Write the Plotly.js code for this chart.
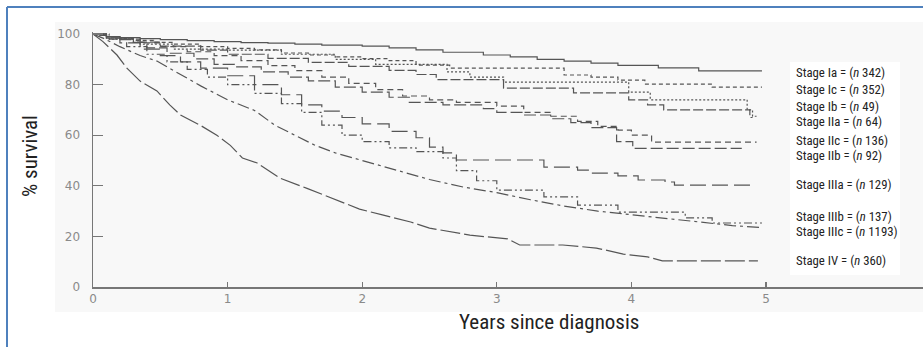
<!DOCTYPE html>
<html>
<head>
<meta charset="utf-8">
<script src="https://cdn.plot.ly/plotly-3.0.1.min.js"></script>
<style>html,body{margin:0;padding:0;background:#fff;}#chart{width:923px;height:347px;}</style>
</head>
<body>
<div id="chart"></div>
<script>
// Stage labels and patient counts
const stages = ["Ia", "Ic", "Ib", "IIa", "IIc", "IIb", "IIIa", "IIIb", "IIIc", "IV"];
const counts = [342, 352, 49, 64, 136, 92, 129, 137, 1193, 360];
const xTicks = [0, 1, 2, 3, 4, 5];
const yTicks = [0, 20, 40, 60, 80, 100];

// Survival curves (years, % survival)
const iaT = [0, 0.05, 0.1, 0.2, 0.35, 0.5, 0.7, 0.9, 1.1, 1.3, 1.5, 1.7, 2.0, 2.2, 2.4, 2.6, 2.9, 3.1, 3.3, 3.5, 3.7, 3.9, 4.2, 4.5, 4.97];
const iaS = [100, 99.5, 99, 98.6, 98.2, 97.8, 97.4, 97, 96.6, 96.4, 96, 95.6, 95.2, 94.5, 93.7, 92.8, 91.7, 91, 90, 89.3, 88.5, 87.6, 86.6, 85.4, 85.4];

const icT = [0, 0.1, 0.2, 0.3, 0.45, 0.6, 0.8, 1.0, 1.2, 1.4, 1.6, 1.8, 2.0, 2.2, 2.4, 2.65, 3.5, 3.7, 3.9, 4.1, 4.6, 4.97];
const icS = [100, 99, 98.3, 97.5, 96.7, 96, 95, 94.3, 93.7, 92.5, 91.7, 91, 90.3, 89.5, 87.7, 86.5, 83.8, 83, 81.8, 80.2, 79, 79];

const ibT = [0, 0.12, 0.35, 0.6, 1.0, 1.4, 1.8, 2.1, 2.63, 2.8, 3.05, 3.98, 4.14, 4.86, 4.9, 4.93];
const ibS = [100, 98, 96, 94, 93.6, 92, 90, 88, 85, 83, 81, 77, 74, 70, 67.5, 67.5];

const iiaT = [0, 0.1, 0.3, 0.5, 0.8, 1.0, 1.3, 1.6, 1.9, 2.2, 2.4, 2.55, 3.05, 3.57, 3.98, 4.12, 4.24, 4.88, 4.9];
const iiaS = [100, 98.4, 96.8, 95.2, 93.6, 92, 90.4, 88.8, 87.2, 85.6, 84, 82, 78.6, 76.7, 74, 72, 70, 67, 67];

const iicT = [0, 0.1, 0.2, 0.35, 0.5, 0.7, 0.9, 1.1, 1.3, 1.5, 1.7, 1.9, 2.1, 2.3, 2.5, 2.7, 3.0, 3.2, 3.4, 3.6, 3.75, 3.9, 4.0, 4.15, 4.93];
const iicS = [100, 99, 98, 96.5, 95, 93, 91.5, 89.5, 87.5, 85.5, 83, 80.5, 78, 75.5, 74, 73, 71.5, 69, 67.5, 65.5, 63.5, 62, 60, 57.3, 57.3];

const iibT = [0, 0.08, 0.2, 0.3, 0.4, 0.55, 0.75, 0.9, 1.05, 1.25, 1.45, 1.6, 1.8, 2.0, 2.2, 2.35, 2.6, 2.9, 3.0, 3.2, 3.4, 3.55, 3.7, 3.89, 4.01, 4.82];
const iibS = [100, 98.9, 97.8, 96.7, 94.5, 92.4, 90.2, 88, 87, 85, 83, 81.5, 79, 77, 75, 73, 72, 70.5, 69, 68, 66.5, 65, 63, 57.5, 54.8, 54.8];

const iiiaT = [0, 0.1, 0.2, 0.35, 0.5, 0.65, 0.8, 1.0, 1.2, 1.4, 1.55, 1.7, 1.85, 2.0, 2.2, 2.4, 2.5, 2.6, 2.7, 3.35, 3.6, 3.7, 3.9, 4.05, 4.25, 4.32, 4.9];
const iiiaS = [100, 98.5, 96.5, 94, 91.5, 89, 86.5, 83.5, 80, 76, 72, 69.5, 67, 64.5, 61.5, 59, 55.3, 53, 50.2, 47.4, 46.2, 45, 43.9, 42.3, 41.5, 40.3, 40.3];

const iiibT = [0, 0.1, 0.25, 0.4, 0.55, 0.7, 0.85, 1.0, 1.2, 1.4, 1.55, 1.7, 1.85, 2.0, 2.2, 2.4, 2.6, 2.7, 2.85, 3.0, 3.35, 3.6, 3.9, 4.4, 4.6, 4.97];
const iiibS = [100, 98, 95, 92, 89, 86, 83, 80, 76.5, 72.5, 69, 64, 60, 57.5, 55, 53.5, 51, 46, 42, 38.3, 35.6, 32.4, 29.6, 27.3, 25.3, 25.3];

const iiicT = [0, 0.074, 0.2, 0.35, 0.475, 0.6, 0.8, 1.0, 1.2, 1.35, 1.5, 1.65, 1.8, 2.0, 2.25, 2.5, 2.75, 3.0, 3.25, 3.5, 3.75, 4.0, 4.25, 4.5, 4.75, 4.97];
const iiicS = [100, 98.4, 95, 91.5, 89.3, 85.5, 79.5, 74, 69.8, 64, 60, 56, 53, 50, 46, 42.5, 39.5, 37.3, 34.5, 32, 30, 28.5, 27, 25.5, 24.3, 23.5];

const ivT = [0, 0.074, 0.178, 0.25, 0.35, 0.475, 0.57, 0.65, 0.795, 0.92, 1.02, 1.11, 1.22, 1.39, 1.59, 1.81, 1.98, 2.15, 2.36, 2.5, 2.8, 3.08, 3.17, 3.49, 3.74, 3.94, 4.12, 4.23, 4.94];
const ivS = [100, 97, 91.7, 86.6, 81.4, 77.5, 72, 68, 64, 60, 56, 51, 49, 43, 39, 34.4, 30.8, 28.5, 25.7, 23.3, 20.5, 19, 16.6, 16.6, 15.4, 13, 11.9, 10.3, 10.3];

const seriesT = [iaT, icT, ibT, iiaT, iicT, iibT, iiiaT, iiibT, iiicT, ivT];
const seriesS = [iaS, icS, ibS, iiaS, iicS, iibS, iiiaS, iiibS, iiicS, ivS];
const dashes = ["solid", "4px,3px", "2px,2px", "10px,3px", "6px,4px", "12px,4px", "16px,6px", "8px,3px,2px,3px,2px,3px", "12px,4px,3px,4px", "20px,4px"];
const shapesLine = ["hv", "hv", "hv", "hv", "hv", "hv", "hv", "hv", "linear", "linear"];
const labelY = [72, 89, 107, 122, 140, 155, 184, 216, 231, 260];

// geometry helpers (pixel -> paper)
const L = 93, R = 0, T = 32, B = 60, W = 923 - L - R, H = 347 - T - B;
const px = x => (x - L) / W;
const py = y => (347 - B - y) / H;

const traces = seriesT.map((t, i) => ({
  x: t, y: seriesS[i], type: "scatter", mode: "lines",
  line: {color: "#555", width: 1.2, dash: dashes[i], shape: shapesLine[i]},
  hoverinfo: "skip", showlegend: false
}));

const condensed = "Roboto Condensed, Liberation Sans Narrow, DejaVu Sans Condensed, sans-serif";
const annotations = stages.map((s, i) => ({
  xref: "paper", yref: "paper", x: px(794), y: py(labelY[i]),
  xanchor: "left", yanchor: "middle", showarrow: false,
  text: "Stage " + s + " = (<i>n</i> " + counts[i] + ")",
  font: {family: condensed, size: 12.8, color: "#222"}
}));
annotations.push({
  xref: "paper", yref: "paper", x: px(30), y: py(156), textangle: -90,
  xanchor: "center", yanchor: "middle", showarrow: false,
  text: "% survival", font: {family: condensed, size: 21, color: "#222"}
});
annotations.push({
  xref: "paper", yref: "paper", x: px(549), y: py(322),
  xanchor: "center", yanchor: "middle", showarrow: false,
  text: "Years since diagnosis", font: {family: condensed, size: 21, color: "#222"}
});

const shapes = [
  {type: "rect", xref: "paper", yref: "paper", x0: px(55), x1: px(923), y0: py(312), y1: py(22), fillcolor: "#f8f8f8", line: {width: 0}, layer: "below"},
  {type: "rect", xref: "paper", yref: "paper", x0: px(790), x1: px(900), y0: py(275), y1: py(62), fillcolor: "#ffffff", line: {width: 0}, layer: "below"},
  {type: "line", xref: "paper", yref: "paper", x0: px(7), x1: px(7), y0: py(7), y1: py(347), line: {color: "#4f81bd", width: 2}},
  {type: "line", xref: "paper", yref: "paper", x0: px(7), x1: px(923), y0: py(7), y1: py(7), line: {color: "#4f81bd", width: 2}}
];

const tickFont = {family: "DejaVu Sans", size: 12, color: "#8a8a8a"};
const layout = {
  width: 923, height: 347,
  margin: {l: L, r: R, t: T, b: B},
  paper_bgcolor: "#ffffff", plot_bgcolor: "rgba(0,0,0,0)",
  xaxis: {range: [0, W / 134.6], showline: true, linecolor: "#777", linewidth: 1.5,
    ticks: "inside", ticklen: 5, tickwidth: 1.2, tickcolor: "#777",
    tickvals: xTicks, ticktext: xTicks.map(String), showgrid: false, zeroline: false,
    tickfont: tickFont},
  yaxis: {range: [0, 100.8], showline: true, linecolor: "#777", linewidth: 1.5,
    ticks: "inside", ticklen: 10, tickwidth: 1.2, tickcolor: "#777",
    tickvals: yTicks, ticktext: yTicks.map(String), showgrid: false, zeroline: false,
    ticklabelstandoff: 9, tickfont: tickFont},
  annotations: annotations,
  shapes: shapes,
  showlegend: false
};

Plotly.newPlot("chart", traces, layout, {staticPlot: true, displayModeBar: false});
</script>
</body>
</html>
